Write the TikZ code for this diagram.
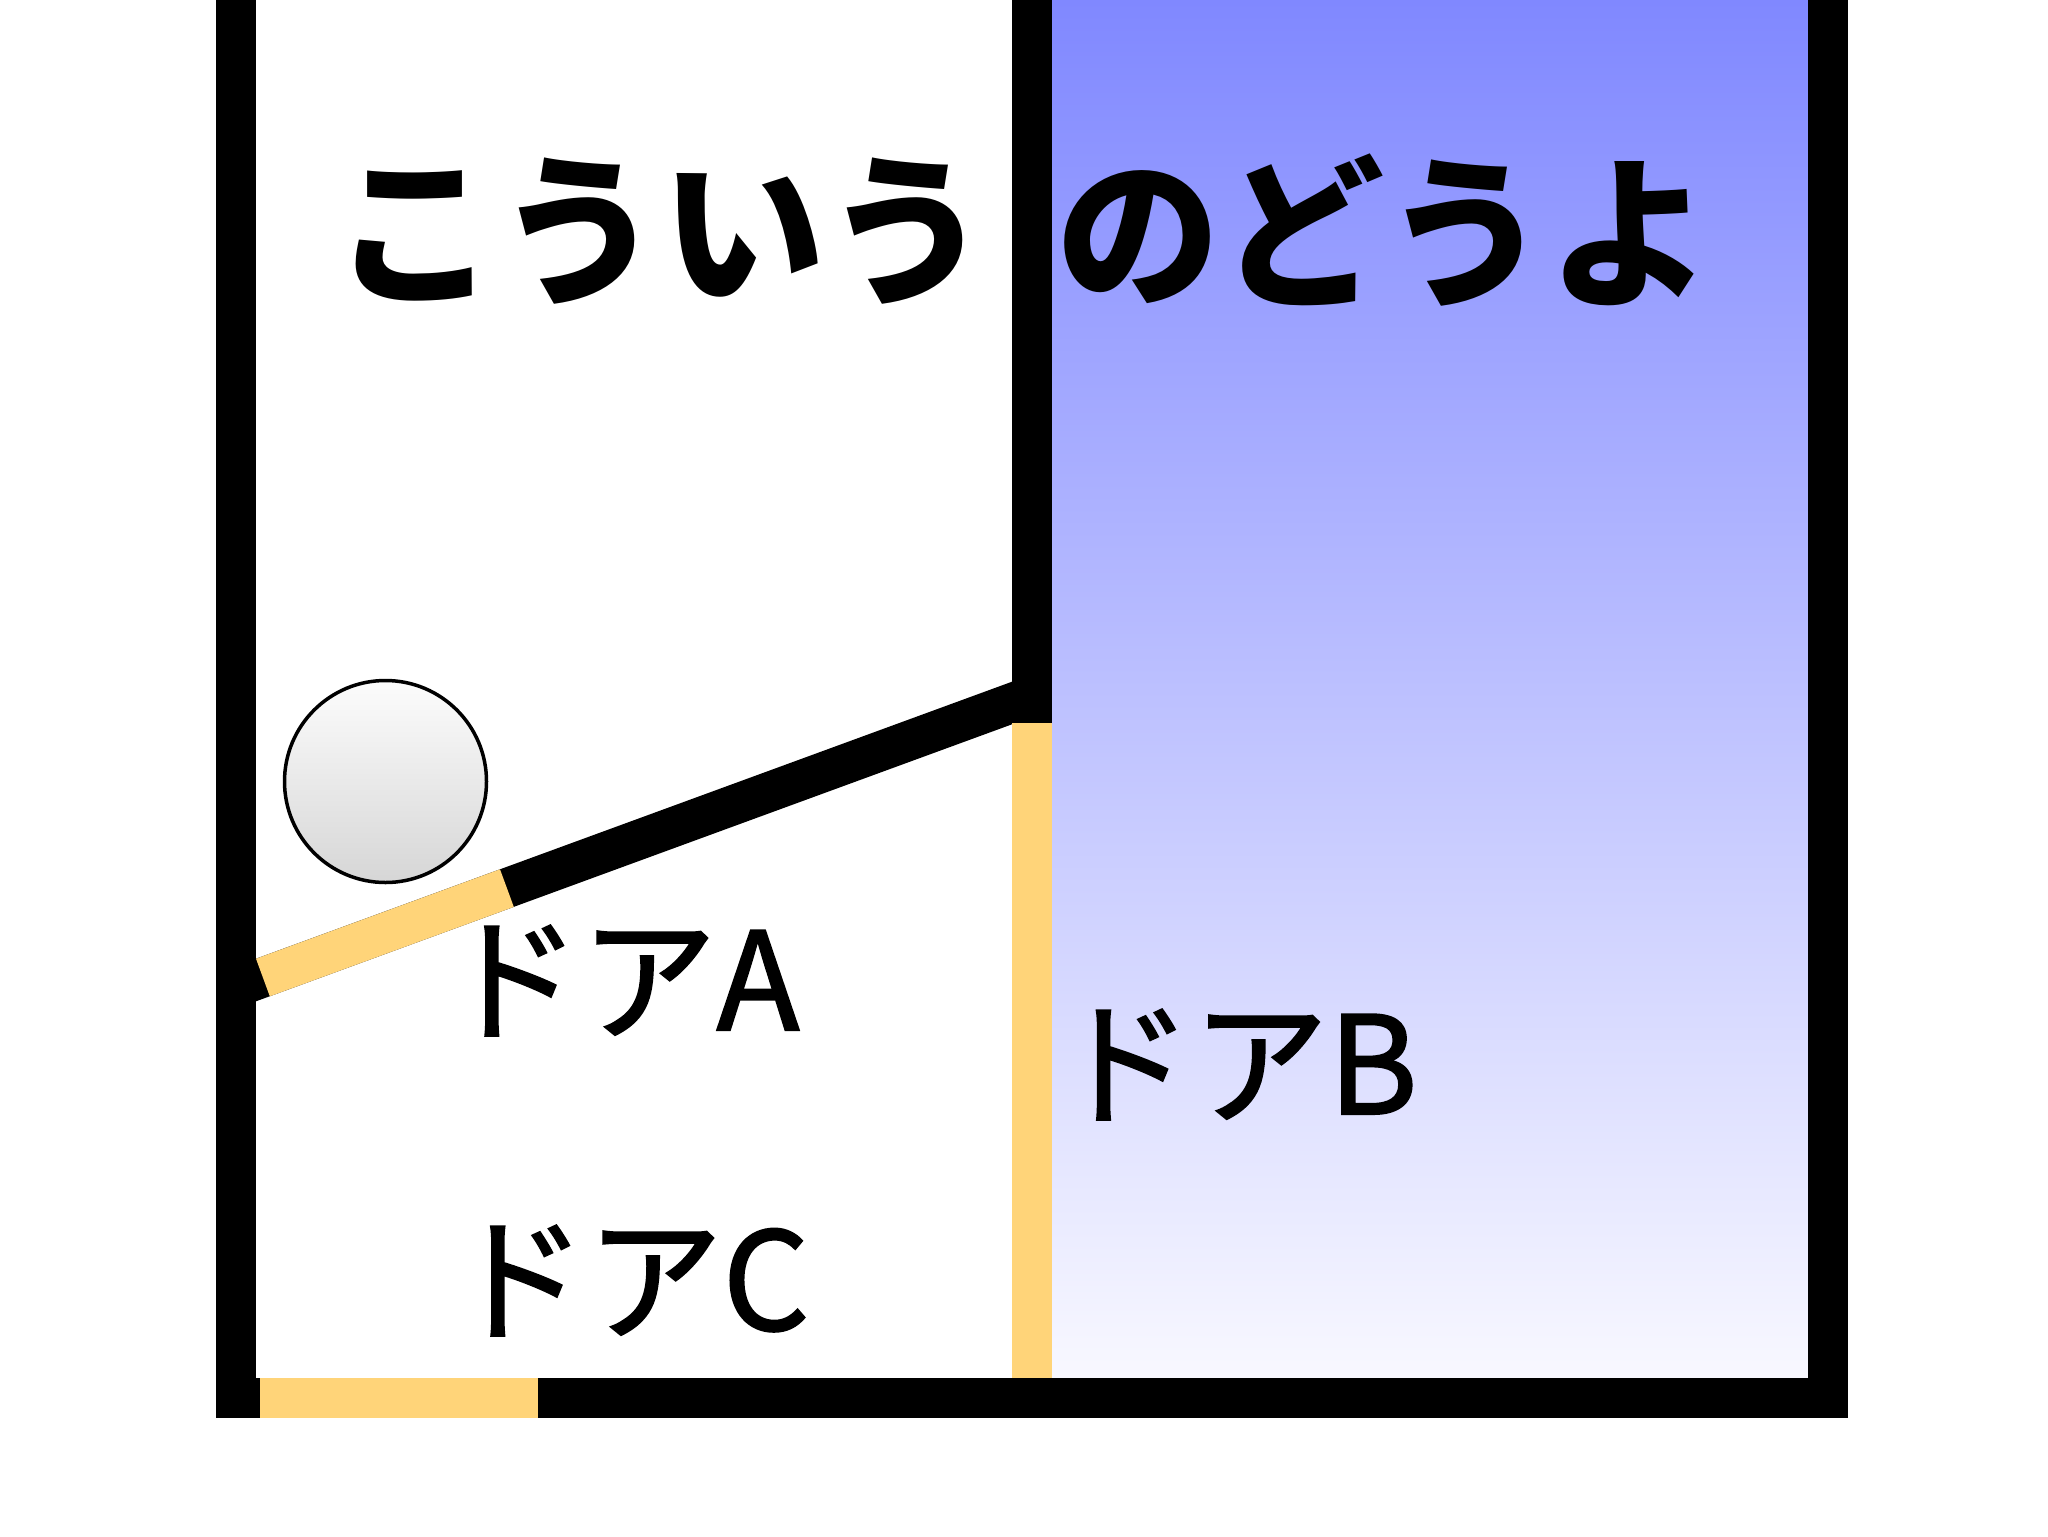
\documentclass[tikz,border=0pt]{standalone}
\usepackage{fontspec}
\newfontfamily\cjk{Noto Sans CJK JP}
\newfontfamily\cjklabel[FakeBold=1.5]{Noto Sans CJK JP}
\definecolor{doorYellow}{RGB}{255,212,121}
\definecolor{skyTop}{RGB}{128,136,255}
\definecolor{skyBottom}{RGB}{248,248,255}
\definecolor{ballTop}{RGB}{252,252,252}
\definecolor{ballBottom}{RGB}{214,214,214}
\begin{document}
\begin{tikzpicture}[x=0.5pt,y=-0.5pt,
  wall/.style={fill=black},
  door/.style={fill=doorYellow},
  titletext/.style={font=\cjk\bfseries\fontsize{82}{90}\selectfont, inner sep=0pt, anchor=center},
  doorlabel/.style={font=\cjklabel\fontsize{68}{76}\selectfont, inner sep=0pt, anchor=base}]
\useasboundingbox (0,0) rectangle (2048,1536);
\fill[white] (0,0) rectangle (2048,1536);
% blue region
\shade[top color=skyTop, bottom color=skyBottom] (1052,0) rectangle (1808,1378);
% walls
\fill[wall] (215.5,0) rectangle (256,1418);
\fill[wall] (1807.5,0) rectangle (1848,1418);
\fill[wall] (215.5,1377.5) rectangle (1848,1418);
\fill[wall] (1012,0) rectangle (1052,723);
\fill[wall] (1012,681.7) -- (256,958.7) -- (256,1001.3) -- (1012,724.3) -- cycle;
% doors
\fill[door] (256,958.7) -- (500,869.3) -- (513.8,906.9) -- (269.8,996.3) -- cycle;
\fill[door] (1012,723) rectangle (1052,1378);
\fill[door] (260,1378) rectangle (538,1418);
% ball
\draw[line width=1.75pt, top color=ballTop, bottom color=ballBottom] (385.5,781.5) circle[radius=101];
% texts
\node[titletext] (t1) at (661,231) {こういう};
\node[titletext] (t2) at (1384,230) {のどうよ};
\node[doorlabel] (la) at (622,1030) {ドアA};
\node[doorlabel] (lb) at (1237,1114) {ドアB};
\node[doorlabel] (lc) at (630,1330) {ドアC};
\end{tikzpicture}
\end{document}
